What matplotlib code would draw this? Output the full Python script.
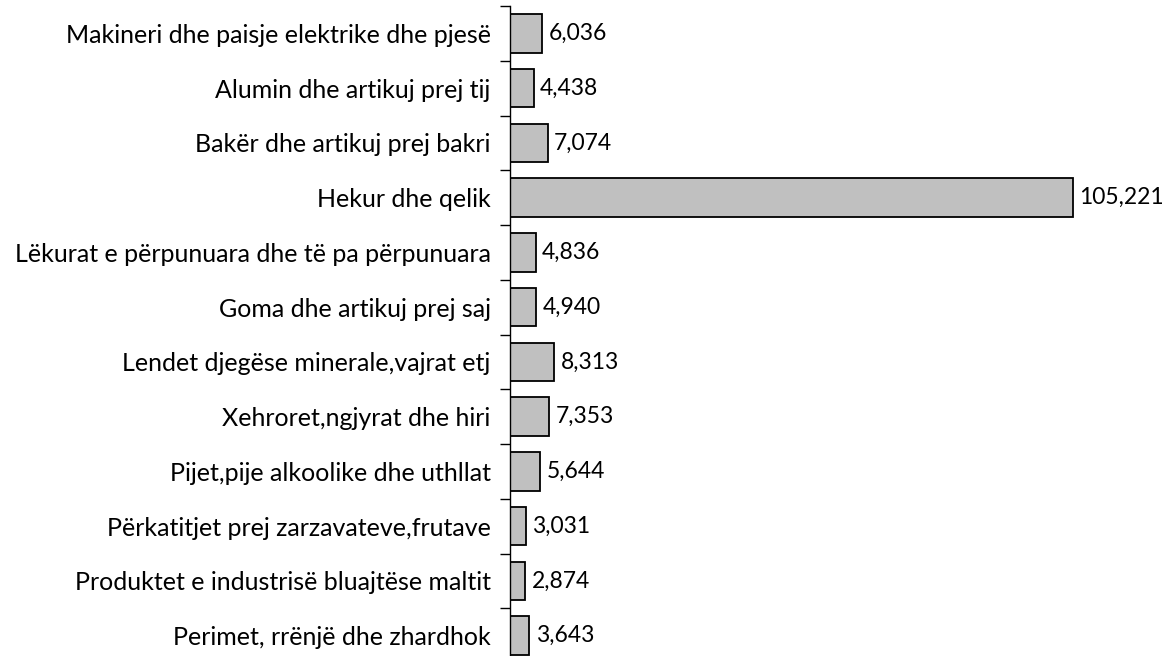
import matplotlib.pyplot as plt

categories = [
    "Makineri dhe paisje elektrike dhe pjesë",
    "Alumin dhe artikuj prej tij",
    "Bakër dhe artikuj prej bakri",
    "Hekur dhe qelik",
    "Lëkurat e përpunuara dhe të pa përpunuara",
    "Goma dhe artikuj prej saj",
    "Lendet djegëse minerale,vajrat etj",
    "Xehroret,ngjyrat dhe hiri",
    "Pijet,pije alkoolike dhe uthllat",
    "Përkatitjet prej zarzavateve,frutave",
    "Produktet e industrisë bluajtëse maltit",
    "Perimet, rrënjë dhe zhardhok",
]
values = [6036, 4438, 7074, 105221, 4836, 4940, 8313, 7353, 5644, 3031, 2874, 3643]

plt.rcParams['font.family'] = ['Lato', 'DejaVu Sans']

fig = plt.figure(figsize=(11.73, 6.56), dpi=100)
# axes placed so the category band reaches just past the bottom edge
ax = fig.add_axes([510 / 1173, -7 / 656, 642 / 1173, 657 / 656])

n = len(categories)
pos = list(range(n))[::-1]
ax.barh(pos, values, height=0.7, color="#c0c0c0", edgecolor="black", linewidth=1.3)

for p, v in zip(pos, values):
    ax.annotate(f"{v:,}", (v, p), xytext=(4.5, 0), textcoords="offset points",
                va="center", ha="left", fontsize=16.5)

ax.set_xlim(0, 120000)
ax.set_ylim(-0.5, n - 0.5)
ax.set_yticks(pos)
ax.set_yticklabels(categories, fontsize=18)
ax.set_yticks([i - 0.5 for i in range(n + 1)], minor=True)
ax.tick_params(axis="y", which="major", length=0, pad=14)
ax.tick_params(axis="y", which="minor", length=7, width=1, direction="out")
ax.set_xticks([])
for s in ["top", "right", "bottom"]:
    ax.spines[s].set_visible(False)
ax.spines["left"].set_linewidth(1)

fig.savefig("out.png", dpi=100)
